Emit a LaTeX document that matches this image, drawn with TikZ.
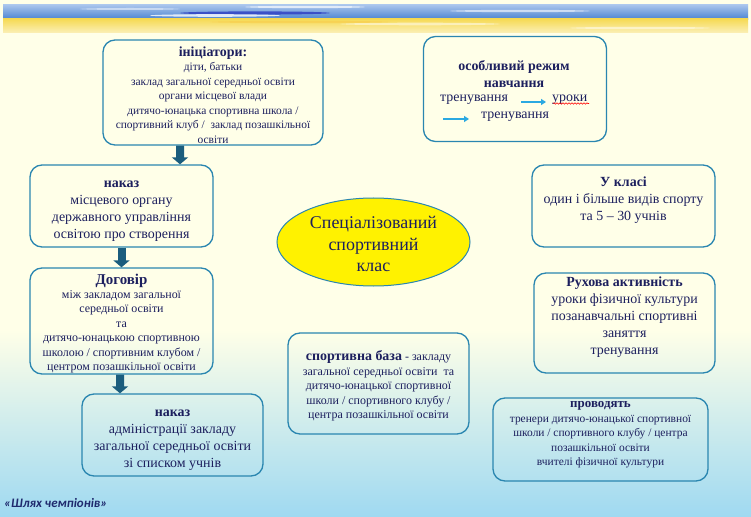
\documentclass[tikz,border=0pt]{standalone}
\usepackage{fontspec}
\setmainfont{Liberation Serif}
\newfontfamily\footfont{Carlito}
\usetikzlibrary{arrows.meta,shapes.geometric,decorations.pathmorphing}
\definecolor{bgyellow}{HTML}{FFFFE8}
\definecolor{bgblue}{HTML}{9FD9F1}
\definecolor{boxline}{HTML}{2A86B0}
\definecolor{arrowcol}{HTML}{1B5D7D}
\definecolor{txt}{HTML}{1C1F5E}
\definecolor{lightarrow}{HTML}{2BA9E1}
\definecolor{bandblueA}{HTML}{A8C4EC}
\definecolor{bandblueB}{HTML}{4680CF}
\definecolor{bandyelA}{HTML}{F6DA55}
\definecolor{bandyelB}{HTML}{FBF0B8}
\definecolor{footcol}{HTML}{1F2A6E}
\begin{document}
\begin{tikzpicture}[x=1bp,y=-1bp,
  box/.style={draw=boxline, line width=1.3bp, rounded corners=12bp, inner sep=0pt},
  btext/.style={align=center, text=txt, inner sep=0pt},
  bigarrow/.style={draw=arrowcol, line width=8bp, -{Triangle[width=16bp,length=7bp]}},
  smallarrow/.style={draw=lightarrow, line width=2bp, -{Triangle[width=6bp,length=5bp]}},
  fA/.style={font=\fontsize{14}{17}\selectfont},
  fB/.style={font=\fontsize{12}{14.5}\selectfont},
  fC/.style={font=\fontsize{11.5}{14.5}\selectfont}]
\useasboundingbox (0,0) rectangle (751,517);
% background
\fill[bgyellow] (0,0) rectangle (751,517);
\shade[top color=bgyellow, bottom color=bgblue] (0,330) rectangle (751,517);
% banner
\shade[top color=bandblueA, bottom color=bandblueB] (3,5) rectangle (748,20);
\shade[top color=bandyelA, bottom color=bandyelB] (3,19) rectangle (748,33);
\fill[blue!70!black, opacity=0.5] (255,13) ellipse (75 and 1.6);
\fill[white, opacity=0.8] (215,15.5) ellipse (65 and 1.3);
\fill[white, opacity=0.7] (305,7) ellipse (60 and 1.2);
\fill[white, opacity=0.6] (520,11) ellipse (70 and 1.2);
\fill[white, opacity=0.5] (130,9) ellipse (50 and 1);
\fill[white, opacity=0.5] (420,24) ellipse (80 and 1.3);
\fill[white, opacity=0.5] (640,28) ellipse (70 and 1.2);
\fill[bandyelA!80!orange, opacity=0.5] (300,22) ellipse (90 and 1.2);
% boxes
\node[box, minimum width=220bp, minimum height=105bp] (init) at (213,92.5) {};
\node[box, minimum width=183bp, minimum height=82bp] (nak1) at (121.5,206) {};
\node[box, minimum width=183bp, minimum height=106bp] (dog) at (121.5,321) {};
\node[box, minimum width=181bp, minimum height=82bp] (nak2) at (172.5,435) {};
\node[box, minimum width=183bp, minimum height=105bp] (rez) at (515,89) {};
\node[box, minimum width=183bp, minimum height=82bp] (ukl) at (623.5,206) {};
\node[box, minimum width=181bp, minimum height=100bp] (ruh) at (624.5,323) {};
\node[box, minimum width=181bp, minimum height=101bp] (baz) at (378.5,383.5) {};
\node[box, minimum width=215bp, minimum height=83bp] (pro) at (600.5,439.5) {};
\node[ellipse, draw=boxline, line width=1bp, fill=yellow, minimum width=193bp, minimum height=88bp, inner sep=0pt] (ell) at (373.5,242) {};
% texts
\node[btext, fC] (inittxt) at (213,95) {{\fontsize{14}{16}\selectfont\bfseries ініціатори:}\\діти, батьки\\заклад загальної середньої освіти\\органи місцевої влади\\дитячо-юнацька спортивна школа /\\спортивний клуб /\ \ заклад позашкільної\\освіти};
\node[btext, fA] (nak1txt) at (121.5,211) {\textbf{наказ}\\місцевого органу\\державного управління\\освітою про створення};
\node[btext, fB] (dogtxt) at (121.5,323.5) {{\fontsize{15}{16.5}\selectfont\bfseries Договір}\\між закладом загальної\\середньої освіти\\та\\дитячо-юнацькою спортивною\\школою / спортивним клубом /\\центром позашкільної освіти};
\node[btext, fA] (nak2txt) at (172.5,440) {\textbf{наказ}\\адміністрації закладу\\загальної середньої освіти\\зі списком учнів};
\node[btext, fA] (reztxt) at (514,74.5) {\textbf{особливий режим}\\\textbf{навчання}};
\node[btext, fA, anchor=west] (rezt1) at (440,100) {тренування};
\node[btext, fA, anchor=west] (rezt2) at (552,100) {уроки};
\node[btext, fA, anchor=west] (rezt3) at (481,117) {тренування};
\coordinate (ra1s) at (521,102);
\coordinate (ra1e) at (546,102);
\coordinate (ra2s) at (443,119);
\coordinate (ra2e) at (469,119);
\draw[smallarrow] (ra1s) -- (ra1e);
\draw[smallarrow] (ra2s) -- (ra2e);
\draw[red, line width=0.6bp, decorate, decoration={snake, amplitude=0.7bp, segment length=3bp}] (rezt2.south west) ++(1,-1.5) -- ++(36,0);
\node[btext, fA] (ukltxt) at (623.5,200.5) {\textbf{У класі}\\один і більше видів спорту\\та 5 – 30 учнів};
\node[btext, fA] (ruhtxt) at (624.5,317.5) {\textbf{Рухова активність}\\уроки фізичної культури\\позанавчальні спортивні\\заняття\\тренування};
\node[btext, fB] (baztxt) at (378.5,386) {{\fontsize{14}{16}\selectfont\bfseries спортивна база} - закладу\\загальної середньої освіти\ \ та\\дитячо-юнацької спортивної\\школи / спортивного клубу /\\центра позашкільної освіти};
\node[btext, fC] (protxt) at (600.5,435) {{\fontsize{13}{15}\selectfont\bfseries проводять}\\тренери дитячо-юнацької спортивної\\школи / спортивного клубу / центра\\позашкільної освіти\\вчителі фізичної культури};
\node[btext, font=\fontsize{18}{22}\selectfont] (elltxt) at (373.5,244) {Спеціалізований\\спортивний\\клас};
% arrows
\draw[bigarrow] ([xshift=-33bp]init.south) -- ([xshift=58.5bp]nak1.north);
\draw[bigarrow] (nak1.south) -- (dog.north);
\draw[bigarrow] ([xshift=-1.5bp]dog.south) -- ([xshift=-52.5bp]nak2.north);
% footer
\node[font=\footfont\bfseries\itshape\fontsize{13}{15}\selectfont, text=footcol, anchor=west, inner sep=0pt] (foot) at (4,503) {«Шлях чемпіонів»};
\end{tikzpicture}
\end{document}
